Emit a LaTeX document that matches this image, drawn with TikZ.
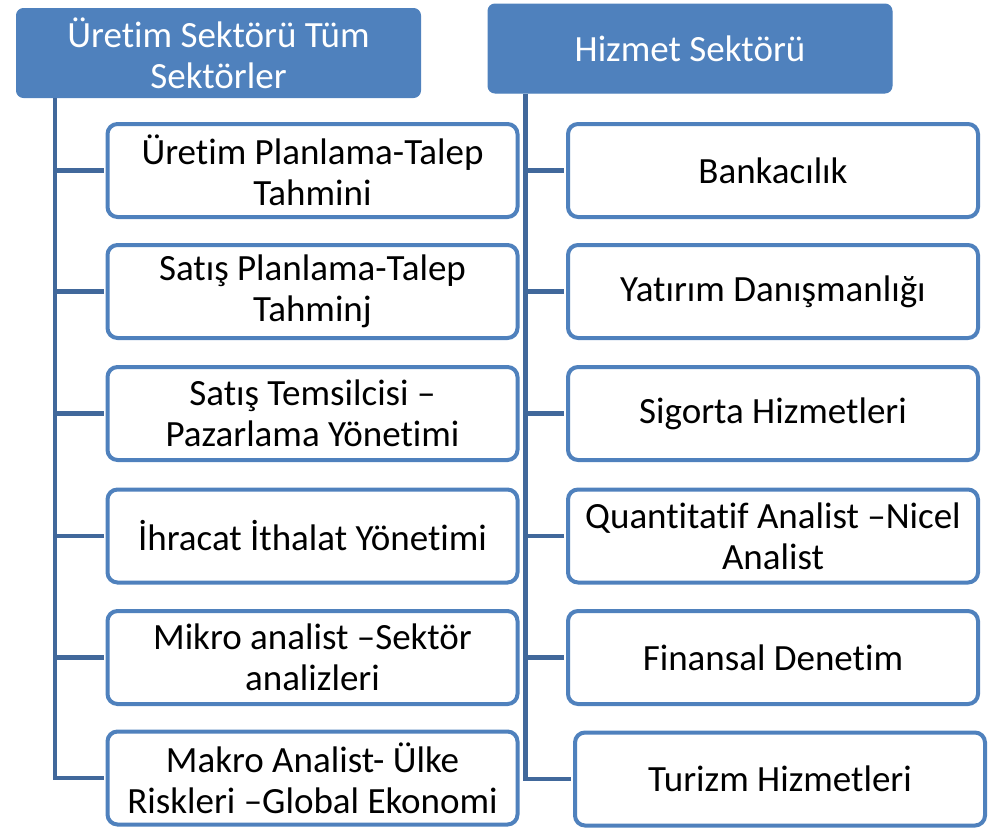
\documentclass[tikz,border=0pt]{standalone}
\usepackage{fontspec}
\setmainfont[Ligatures=NoCommon, RawFeature={-liga;-clig;-dlig}]{Carlito}
\usepackage{xcolor}
\usetikzlibrary{positioning, calc}
\definecolor{headblue}{RGB}{79,129,189}
\definecolor{spineblue}{RGB}{65,104,155}

\begin{document}
\begin{tikzpicture}[x=1pt, y=-1pt,
    headbox/.style={draw=headblue, fill=headblue, rounded corners=7pt, line width=1pt,
        minimum width=404pt, minimum height=89pt, inner sep=0pt, align=center,
        text=white, font=\fontsize{37}{41}\selectfont},
    itembox/.style={draw=headblue, fill=white, rounded corners=10pt, line width=4pt,
        minimum width=410pt, minimum height=93pt, inner sep=0pt, align=center,
        text=black, font=\fontsize{37}{41}\selectfont},
    spine/.style={draw=spineblue, line width=4.5pt}]
    \useasboundingbox (0,0) rectangle (993,828);

    \node[headbox] (prod) at (218.5,53) {Üretim Sektörü Tüm\\Sektörler};
    \node[headbox] (serv) at (690,48.5) {Hizmet Sektörü};

    \foreach \i/\y/\txt in {1/170.5/{Üretim Planlama-Talep\\Tahmini},
                            2/291.5/{Satış Planlama-Talep\\Tahminj},
                            3/413.5/{Satış Temsilcisi –\\Pazarlama Yönetimi},
                            4/536/{İhracat İthalat Yönetimi},
                            5/657.5/{Mikro analist –Sektör\\analizleri},
                            6/778/{Makro Analist- Ülke\\Riskleri –Global Ekonomi}} {
        \node[itembox] (p\i) at (312.5,\y) {\txt};
    }
    \foreach \i/\x/\y/\txt in {1/773/170.5/{Bankacılık},
                               2/773/291.5/{Yatırım Danışmanlığı},
                               3/773/413.5/{Sigorta Hizmetleri},
                               4/773/536/{Quantitatif Analist –Nicel\\Analist},
                               5/773/657.5/{Finansal Denetim},
                               6/780/779/{Turizm Hizmetleri}} {
        \node[itembox] (s\i) at (\x,\y) {\txt};
    }

    \coordinate (ptop) at ($(prod.south west)+(39,0)$);
    \coordinate (stop) at ($(serv.south west)+(38,0)$);
    \draw[spine] (ptop) |- ([xshift=-2pt]p6.west);
    \draw[spine] (stop) |- ([xshift=-2pt]s6.west);
    \foreach \i in {1,...,5} {
        \draw[spine] (ptop |- p\i.west) -- ([xshift=-2pt]p\i.west);
        \draw[spine] (stop |- s\i.west) -- ([xshift=-2pt]s\i.west);
    }
\end{tikzpicture}
\end{document}
